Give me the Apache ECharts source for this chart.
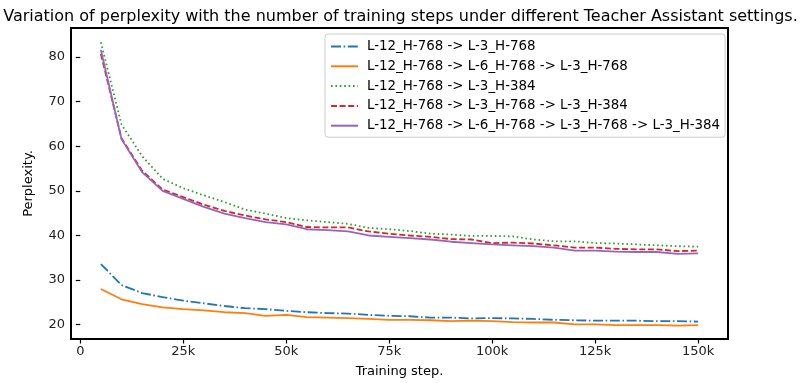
<!DOCTYPE html>
<html>
<head>
<meta charset="utf-8">
<script src="https://cdn.jsdelivr.net/npm/echarts@6/dist/echarts.min.js"></script>
<style>html,body{margin:0;padding:0;background:#fff}#c{width:801px;height:383px}</style>
</head>
<body>
<div id="c"></div>
<script>
const steps = [5000,10000,15000,20000,25000,30000,35000,40000,45000,50000,55000,60000,65000,70000,75000,80000,85000,90000,95000,100000,105000,110000,115000,120000,125000,130000,135000,140000,145000,150000];
const seriesNames = [
  "L-12_H-768 -> L-3_H-768",
  "L-12_H-768 -> L-6_H-768 -> L-3_H-768",
  "L-12_H-768 -> L-3_H-384",
  "L-12_H-768 -> L-3_H-768 -> L-3_H-384",
  "L-12_H-768 -> L-6_H-768 -> L-3_H-768 -> L-3_H-384"
];
const blue = [33.6,28.9,27.1,26.2,25.4,24.8,24.2,23.7,23.5,23.1,22.8,22.6,22.5,22.2,22.0,21.9,21.6,21.6,21.4,21.5,21.4,21.3,21.1,21.0,20.9,20.9,20.9,20.8,20.8,20.7];
const orange = [28.0,25.7,24.6,23.9,23.5,23.2,22.8,22.6,22.0,22.2,21.7,21.6,21.5,21.3,21.1,21.1,21.0,20.8,20.9,20.8,20.6,20.5,20.5,20.1,20.1,19.9,19.9,19.9,19.8,19.9];
const green = [83.3,64.9,57.8,52.7,50.6,49.0,47.5,45.8,44.9,43.9,43.4,43.0,42.6,41.7,41.4,41.0,40.4,40.2,39.9,39.9,39.8,39.1,38.7,38.7,38.3,38.2,38.0,37.8,37.6,37.5];
const red = [80.7,61.8,54.5,50.3,48.6,46.9,45.5,44.5,43.6,43.0,41.9,41.8,41.8,40.9,40.4,40.0,39.7,39.2,39.1,38.3,38.4,38.2,37.8,37.3,37.3,37.0,36.9,36.9,36.5,36.6];
const purple = [81.6,61.6,54.2,50.0,48.2,46.4,44.9,43.9,43.0,42.5,41.4,41.2,40.9,40.0,39.7,39.4,39.1,38.6,38.3,38.0,37.8,37.6,37.3,36.6,36.6,36.4,36.3,36.3,35.9,36.0];
const xTicks = [0,25000,50000,75000,100000,125000,150000];
const xTickLabels = ["0","25k","50k","75k","100k","125k","150k"];
const yTicks = [20,30,40,50,60,70,80];

const colors = ["#1f77b4","#ff7f0e","#2ca02c","#d62728","#9467bd"];
const dashes = [[10,2.6,1.6,2.6],"solid",[1.6,2.8],[6,2.6],"solid"];
const values = [blue, orange, green, red, purple];
const font = "DejaVu Sans";

const chart = echarts.init(document.getElementById('c'), null, {renderer:'canvas'});
chart.setOption({
  animation:false,
  backgroundColor:'#fff',
  title:{text:"Variation of perplexity with the number of training steps under different Teacher Assistant settings.",
    left:'center', top:4, textStyle:{fontFamily:font,fontSize:16,fontWeight:'normal',color:'#000'}},
  grid:{left:71,right:73,top:28,bottom:42,show:true,borderColor:'#000',borderWidth:2,backgroundColor:'transparent'},
  legend:{
    orient:'vertical', left:325, top:34, itemWidth:27, itemHeight:12, itemGap:6.8,
    backgroundColor:'#fff', borderColor:'#ccc', borderWidth:1, borderRadius:3,
    padding:[6,5,5,5],
    itemStyle:{opacity:0},
    textStyle:{fontFamily:font,fontSize:13.4,color:'#000',padding:[0,0,0,4]},
    data:seriesNames
  },
  xAxis:{type:'value', min:-2250, max:157250,
    name:'Training step.', nameLocation:'middle', nameGap:26,
    nameTextStyle:{fontFamily:font,fontSize:13,color:'#000'},
    axisLine:{show:false}, splitLine:{show:false},
    axisTick:{show:true,length:4.5,inside:false,lineStyle:{color:'#000',width:1.2},customValues:xTicks},
    axisLabel:{fontFamily:font,fontSize:13,color:'#222',margin:6,customValues:xTicks,
      formatter:function(v){const i=xTicks.indexOf(v);return i>=0?xTickLabels[i]:'';}}
  },
  yAxis:{type:'value', min:16.8, max:86.5,
    name:'Perplexity.', nameLocation:'middle', nameGap:36, nameRotate:90,
    nameTextStyle:{fontFamily:font,fontSize:13,color:'#000'},
    axisLine:{show:false}, splitLine:{show:false},
    axisTick:{show:true,length:4.5,lineStyle:{color:'#000',width:1.2},customValues:yTicks},
    axisLabel:{fontFamily:font,fontSize:13,color:'#222',margin:6,customValues:yTicks}
  },
  series: seriesNames.map((n,i)=>({
    name:n, type:'line', showSymbol:false, symbol:'none',
    data: steps.map((s,j)=>[s, values[i][j]]),
    lineStyle:{color:colors[i], width:1.8, type:dashes[i]},
    itemStyle:{color:colors[i]},
    z: 2+i
  }))
});
</script>
</body>
</html>
